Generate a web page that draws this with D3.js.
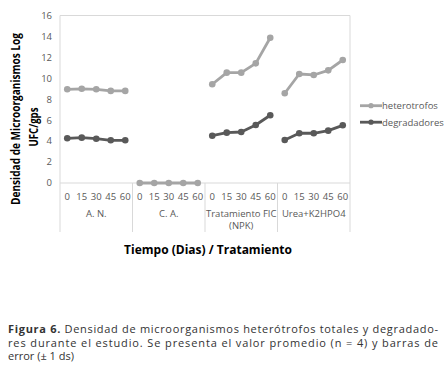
<!DOCTYPE html>
<html>
<head>
<meta charset="utf-8">
<script src="https://cdn.jsdelivr.net/npm/d3@7"></script>
<style>
  body { margin: 0; background: #fff; }
  svg { display: block; font-family: "Open Sans", sans-serif; }
</style>
</head>
<body>
<svg id="chart" width="447" height="373"></svg>
<script>
const width = 447;
const height = 373;

// data
const treatments = ["A. N.", "C. A.", "Tratamiento FIC|(NPK)", "Urea+K2HPO4"];
const days = ["0", "15", "30", "45", "60"];
const heterotrofos = [
    [8.95, 9.0, 8.95, 8.8, 8.8],
    [0, 0, 0, 0, 0],
    [9.43, 10.54, 10.54, 11.43, 13.88],
    [8.57, 10.41, 10.32, 10.76, 11.75]
];
const degradadores = [
    [4.27, 4.33, 4.23, 4.08, 4.08],
    [null, null, null, null, null],
    [4.52, 4.81, 4.87, 5.54, 6.47],
    [4.11, 4.75, 4.75, 5.0, 5.51]
];
const yTicks = [0, 2, 4, 6, 8, 10, 12, 14, 16];

const series = [
    { name: "heterotrofos", values: heterotrofos, color: "#a5a5a5" },
    { name: "degradadores", values: degradadores, color: "#595959" }
];

const plot = { left: 60, right: 350, top: 15.5, bottom: 183 };
const svg = d3.select("#chart");
const gridColor = "#d9d9d9";
const labelColor = "#595959";

// scales: band per treatment, point per day inside each band
const xGroup = d3.scaleBand()
    .domain(treatments)
    .range([plot.left, plot.right]);

const xDay = d3.scalePoint()
    .domain(days)
    .range([0, xGroup.bandwidth()])
    .padding(0.5);

const y = d3.scaleLinear()
    .domain([0, 16])
    .range([plot.bottom, plot.top]);

// plot frame
svg.append("line")
    .attr("x1", plot.left).attr("x2", plot.right)
    .attr("y1", y(16)).attr("y2", y(16))
    .attr("stroke", gridColor);
svg.append("line")
    .attr("x1", plot.left).attr("x2", plot.right)
    .attr("y1", y(0)).attr("y2", y(0))
    .attr("stroke", gridColor);

// vertical separators between the categories (run down through the labels)
const sepX = treatments.map(t => xGroup(t)).concat([plot.right]);
svg.selectAll(".sep")
    .data(sepX)
    .join("line")
    .attr("class", "sep")
    .attr("x1", d => d).attr("x2", d => d)
    .attr("y1", (d, i) => (i === 0 || i === sepX.length - 1) ? y(16) : y(0))
    .attr("y2", 232)
    .attr("stroke", gridColor);

// y axis labels
svg.selectAll(".ytick")
    .data(yTicks)
    .join("text")
    .attr("class", "ytick")
    .attr("x", 52)
    .attr("y", d => y(d))
    .attr("dy", "0.35em")
    .attr("text-anchor", "end")
    .attr("font-size", "9.5px")
    .attr("fill", labelColor)
    .text(d => d);

// x axis: day labels and treatment labels
treatments.forEach(t => {
    const g = svg.append("g").attr("transform", `translate(${xGroup(t)},0)`);
    g.selectAll("text.day")
        .data(days)
        .join("text")
        .attr("class", "day")
        .attr("x", d => xDay(d))
        .attr("y", 199.5)
        .attr("text-anchor", "middle")
        .attr("font-size", "9.5px")
        .attr("fill", labelColor)
        .text(d => d);
    g.selectAll("text.cat")
        .data(t.split("|"))
        .join("text")
        .attr("class", "cat")
        .attr("x", xGroup.bandwidth() / 2)
        .attr("y", (d, i) => 216.5 + i * 12)
        .attr("text-anchor", "middle")
        .attr("font-size", "9.5px")
        .attr("fill", labelColor)
        .text(d => d);
});

// axis titles
svg.append("text")
    .attr("x", 208)
    .attr("y", 254)
    .attr("text-anchor", "middle")
    .attr("font-size", "12px")
    .attr("font-weight", "bold")
    .attr("fill", "#000")
    .text("Tiempo (Dias) / Tratamiento");

const yTitle = svg.append("text")
    .attr("transform", "translate(0,119) rotate(-90)")
    .attr("text-anchor", "middle")
    .attr("font-size", "12px")
    .attr("font-weight", "bold")
    .attr("fill", "#000");
yTitle.append("tspan")
    .attr("x", 0).attr("y", 20)
    .attr("textLength", 172)
    .attr("lengthAdjust", "spacingAndGlyphs")
    .text("Densidad de Microorganismos Log");
yTitle.append("tspan")
    .attr("x", -8).attr("y", 38)
    .attr("textLength", 39)
    .attr("lengthAdjust", "spacingAndGlyphs")
    .text("UFC/gps");

// lines and markers, one segment per treatment
const line = d3.line()
    .defined(d => d.v !== null)
    .x(d => d.x)
    .y(d => y(d.v));

series.forEach(s => {
    const g = svg.append("g").attr("class", s.name);
    treatments.forEach((t, ti) => {
        const pts = days.map((d, di) => ({ x: xGroup(t) + xDay(d), v: s.values[ti][di] }));
        g.append("path")
            .attr("d", line(pts))
            .attr("fill", "none")
            .attr("stroke", s.color)
            .attr("stroke-width", 2.8)
            .attr("stroke-linejoin", "round");
        g.selectAll(null)
            .data(pts.filter(p => p.v !== null))
            .join("circle")
            .attr("cx", p => p.x)
            .attr("cy", p => y(p.v))
            .attr("r", 3.3)
            .attr("fill", s.color);
    });
});

// legend
const legend = svg.append("g").attr("transform", "translate(360,0)");
series.forEach((s, i) => {
    const ly = 105.7 + i * 16.5;
    legend.append("line")
        .attr("x1", 0).attr("x2", 22)
        .attr("y1", ly).attr("y2", ly)
        .attr("stroke", s.color)
        .attr("stroke-width", 2.8);
    legend.append("circle")
        .attr("cx", 11).attr("cy", ly).attr("r", 2.6)
        .attr("fill", s.color);
    legend.append("text")
        .attr("x", 22)
        .attr("y", ly)
        .attr("dy", "0.35em")
        .attr("font-size", "9.5px")
        .attr("fill", labelColor)
        .text(s.name);
});

// caption below the chart
const caption = svg.append("g").attr("font-size", "11px").attr("fill", "#333");
const cap1 = caption.append("text")
    .attr("x", 8).attr("y", 333)
    .attr("textLength", 430)
    .attr("lengthAdjust", "spacing");
cap1.append("tspan").attr("font-weight", "bold").text("Figura 6.");
cap1.append("tspan").text(" Densidad de microorganismos heterótrofos totales y degradado-");
caption.append("text")
    .attr("x", 8).attr("y", 346.5)
    .attr("textLength", 430)
    .attr("lengthAdjust", "spacing")
    .text("res durante el estudio. Se presenta el valor promedio (n = 4) y barras de");
caption.append("text")
    .attr("x", 8).attr("y", 360)
    .text("error (± 1 ds)");
</script>
</body>
</html>
